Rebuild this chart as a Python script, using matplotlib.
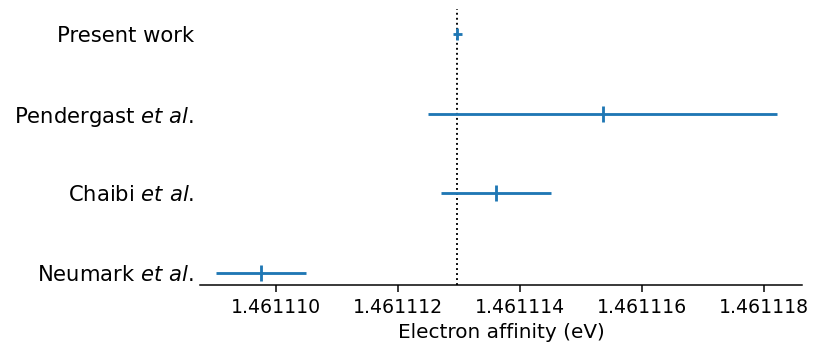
import matplotlib
matplotlib.use("Agg")
import matplotlib.pyplot as plt
from matplotlib.ticker import FormatStrFormatter

# Electron affinity measurements (eV), bottom to top
labels = [r"Neumark $\mathit{et\ al.}$",
          r"Chaibi $\mathit{et\ al.}$",
          r"Pendergast $\mathit{et\ al.}$",
          "Present work"]
values = [1.46110975, 1.4611136, 1.46111535, 1.46111297]
errors = [0.00000074, 0.0000009, 0.00000286, 0.00000008]
xticks = [1.461110, 1.461112, 1.461114, 1.461116, 1.461118]

DPI = 136
fig = plt.figure(figsize=(814 / DPI, 344 / DPI), dpi=DPI)
ax = fig.add_axes([0.2463, 0.1715, 0.9849 - 0.2463, 0.9724 - 0.1715])

ypos = list(range(len(labels)))
for i, (v, e) in enumerate(zip(values, errors)):
    ms = 6 if i == len(labels) - 1 else 8
    ax.errorbar([v], [ypos[i]], xerr=[e], fmt="|", ms=ms, mew=1.5,
                color="C0", lw=1.5)

# reference line at the present value
ax.axvline(values[-1], color="black", ls=":", lw=1.0, zorder=0)

ax.set_yticks(ypos)
ax.set_yticklabels(labels, fontsize=11.2)
ax.tick_params(axis="y", length=0)
ax.set_xticks(xticks)
ax.xaxis.set_major_formatter(FormatStrFormatter("%.6f"))
ax.set_xlim(1.461108757, 1.461118613)
ax.set_ylim(-0.15, 3.31)
ax.set_xlabel("Electron affinity (eV)", fontsize=10.6, labelpad=3)

for side in ("left", "right", "top"):
    ax.spines[side].set_visible(False)

fig.savefig("out.png", dpi=DPI)
